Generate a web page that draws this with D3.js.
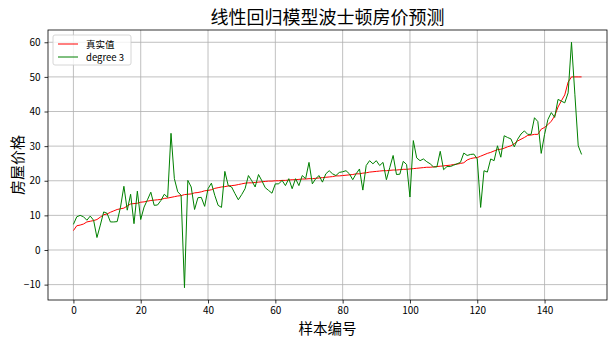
<!DOCTYPE html>
<html>
<head>
<meta charset="utf-8">
<script src="https://cdn.jsdelivr.net/npm/d3@7"></script>
<style>
  body { margin: 0; background: #fff; }
  svg { display: block; font-family: "Noto Sans CJK SC", "DejaVu Sans", sans-serif; }
</style>
</head>
<body>
<svg id="chart" width="616" height="340"></svg>
<script>
const title = '线性回归模型波士顿房价预测'
const xLabel = '样本编号'
const yLabel = '房屋价格'
const seriesNames = ['真实值', 'degree 3']
const xTicks = [0, 20, 40, 60, 80, 100, 120, 140]
const yTicks = [-10, 0, 10, 20, 30, 40, 50, 60]

// sorted true prices
const trueValues = [
  5.6, 7.0, 7.2, 7.5, 8.1, 8.3, 8.5, 8.8, 9.5, 10.2,
  10.4, 10.9, 11.3, 11.7, 11.9, 12.1, 12.7, 13.3, 13.4, 13.5,
  13.8, 13.9, 14.1, 14.3, 14.4, 14.5, 14.6, 14.9, 15.0, 15.2,
  15.4, 15.6, 15.7, 16.0, 16.1, 16.2, 16.5, 16.6, 16.8, 17.1,
  17.2, 17.4, 17.8, 18.0, 18.2, 18.3, 18.5, 18.6, 18.7, 18.9,
  19.1, 19.3, 19.4, 19.4, 19.5, 19.6, 19.7, 19.8, 19.9, 19.9,
  20.0, 20.0, 20.1, 20.1, 20.2, 20.3, 20.3, 20.4, 20.5, 20.5,
  20.6, 20.6, 20.7, 20.8, 20.9, 21.0, 21.1, 21.2, 21.4, 21.4,
  21.5, 21.6, 21.7, 21.8, 22.0, 22.0, 22.2, 22.3, 22.5, 22.6,
  22.7, 22.8, 22.9, 22.9, 23.0, 23.1, 23.1, 23.2, 23.3, 23.3,
  23.4, 23.5, 23.6, 23.7, 23.8, 23.9, 23.9, 24.0, 24.1, 24.2,
  24.3, 24.4, 24.5, 24.7, 24.8, 25.0, 25.2, 26.0, 26.4, 26.6,
  26.7, 27.1, 27.5, 27.9, 28.2, 28.6, 29.0, 29.1, 29.4, 29.8,
  30.1, 30.7, 31.5, 32.0, 32.5, 33.1, 33.2, 33.4, 33.4, 34.9,
  35.4, 36.2, 37.2, 38.7, 41.3, 43.1, 44.8, 48.5, 50.0, 50.0,
  50.0, 50.0
]

// degree 3 predictions
const predValues = [
  7.4, 9.6, 10.0, 9.6, 8.6, 9.8, 8.6, 3.6, 7.2, 11.0,
  10.6, 8.1, 8.1, 8.2, 12.4, 18.4, 11.5, 16.1, 7.6, 17.0,
  8.8, 12.4, 14.5, 16.7, 12.9, 13.0, 14.3, 16.1, 15.2, 33.7,
  20.6, 16.8, 15.8, -10.9, 20.1, 18.2, 11.7, 15.1, 15.2, 12.6,
  17.7, 19.3, 15.8, 12.9, 12.3, 22.7, 18.6, 18.2, 16.3, 14.5,
  16.0, 17.7, 21.5, 20.0, 18.2, 21.8, 20.0, 18.0, 17.2, 16.4,
  19.1, 19.1, 20.1, 18.6, 20.6, 17.7, 20.6, 18.6, 21.5, 20.6,
  25.3, 19.1, 20.6, 21.5, 19.6, 22.0, 22.9, 22.0, 21.5, 22.4,
  22.6, 22.9, 22.0, 20.3, 22.0, 23.4, 17.3, 24.4, 25.8, 24.9,
  25.8, 24.4, 25.3, 20.3, 23.8, 27.3, 21.8, 21.9, 25.6, 24.7,
  15.3, 31.6, 26.6, 25.8, 26.3, 25.5, 24.9, 24.0, 24.0, 28.5,
  23.2, 24.1, 24.1, 24.5, 24.9, 25.3, 28.0, 27.3, 27.6, 27.7,
  26.3, 12.3, 22.9, 22.5, 26.3, 25.8, 30.1, 26.8, 33.0, 32.5,
  32.1, 29.8, 32.0, 33.5, 34.4, 33.4, 33.4, 38.2, 37.1, 27.9,
  33.4, 37.7, 39.7, 38.3, 43.5, 43.0, 42.5, 45.4, 60.0, 45.0,
  30.1, 27.6
]

const width = 616
const height = 340
const margin = { top: 30, right: 9, bottom: 40, left: 48 }

const svg = d3.select('#chart')
const n = trueValues.length
const allValues = trueValues.concat(predValues)
const yMin = d3.min(allValues)
const yMax = d3.max(allValues)

// matplotlib style 5% padding
const xPad = (n - 1) * 0.05
const yPad = (yMax - yMin) * 0.05

const x = d3.scaleLinear()
  .domain([-xPad, n - 1 + xPad])
  .range([margin.left, width - margin.right])
const y = d3.scaleLinear()
  .domain([yMin - yPad, yMax + yPad])
  .range([height - margin.bottom, margin.top])

// Grid

const grid = svg.append('g')
grid.selectAll('.gx').data(xTicks).enter().append('line')
  .attr('x1', d => x(d)).attr('x2', d => x(d))
  .attr('y1', margin.top).attr('y2', height - margin.bottom)
  .attr('stroke', '#b0b0b0').attr('stroke-width', 0.8)
grid.selectAll('.gy').data(yTicks).enter().append('line')
  .attr('x1', margin.left).attr('x2', width - margin.right)
  .attr('y1', d => y(d)).attr('y2', d => y(d))
  .attr('stroke', '#b0b0b0').attr('stroke-width', 0.8)

// Lines

const line = d3.line().x((d, i) => x(i)).y(d => y(d))

svg.append('path').datum(trueValues)
  .attr('d', line).attr('fill', 'none')
  .attr('stroke', '#ff0000').attr('stroke-width', 1)
svg.append('path').datum(predValues)
  .attr('d', line).attr('fill', 'none')
  .attr('stroke', '#008000').attr('stroke-width', 1)

// Axes

const xAxis = svg.append('g')
  .attr('transform', `translate(0,${height - margin.bottom})`)
  .call(d3.axisBottom(x).tickValues(xTicks).tickSizeOuter(0).tickSize(3.5).tickPadding(3))
const yAxis = svg.append('g')
  .attr('transform', `translate(${margin.left},0)`)
  .call(d3.axisLeft(y).tickValues(yTicks).tickSizeOuter(0).tickSize(3.5).tickPadding(4)
    .tickFormat(d => d < 0 ? '\u2212' + Math.abs(d) : d))

for (const ax of [xAxis, yAxis]) {
  ax.select('.domain').remove()
  ax.selectAll('text').attr('font-size', 10).attr('fill', '#000')
    .attr('font-family', '"Noto Sans CJK SC", "DejaVu Sans", sans-serif')
  ax.selectAll('line').attr('stroke', '#000').attr('stroke-width', 0.8)
}

// frame
svg.append('rect')
  .attr('x', margin.left).attr('y', margin.top)
  .attr('width', width - margin.left - margin.right)
  .attr('height', height - margin.top - margin.bottom)
  .attr('fill', 'none').attr('stroke', '#000').attr('stroke-width', 0.8)

// Labels

svg.append('text')
  .attr('x', (margin.left + width - margin.right) / 2).attr('y', 24)
  .attr('text-anchor', 'middle').attr('font-size', 18)
  .text(title)
svg.append('text')
  .attr('x', (margin.left + width - margin.right) / 2).attr('y', 334)
  .attr('text-anchor', 'middle').attr('font-size', 14.5)
  .text(xLabel)
svg.append('text')
  .attr('transform', `translate(23,${(margin.top + height - margin.bottom) / 2}) rotate(-90)`)
  .attr('text-anchor', 'middle').attr('font-size', 15)
  .text(yLabel)

// Legend

const legend = svg.append('g').attr('transform', `translate(${margin.left + 5},${margin.top + 5})`)
legend.append('rect')
  .attr('width', 78).attr('height', 30).attr('rx', 2)
  .attr('fill', '#fff').attr('fill-opacity', 0.8)
  .attr('stroke', '#cccccc').attr('stroke-width', 0.8)
const colors = ['#ff0000', '#008000']
seriesNames.forEach((name, i) => {
  const ly = 9 + i * 13
  legend.append('line')
    .attr('x1', 5).attr('x2', 25).attr('y1', ly).attr('y2', ly)
    .attr('stroke', colors[i]).attr('stroke-width', 1)
  legend.append('text')
    .attr('x', 33).attr('y', ly + 3.5).attr('font-size', 9.5)
    .text(name)
})
</script>
</body>
</html>
